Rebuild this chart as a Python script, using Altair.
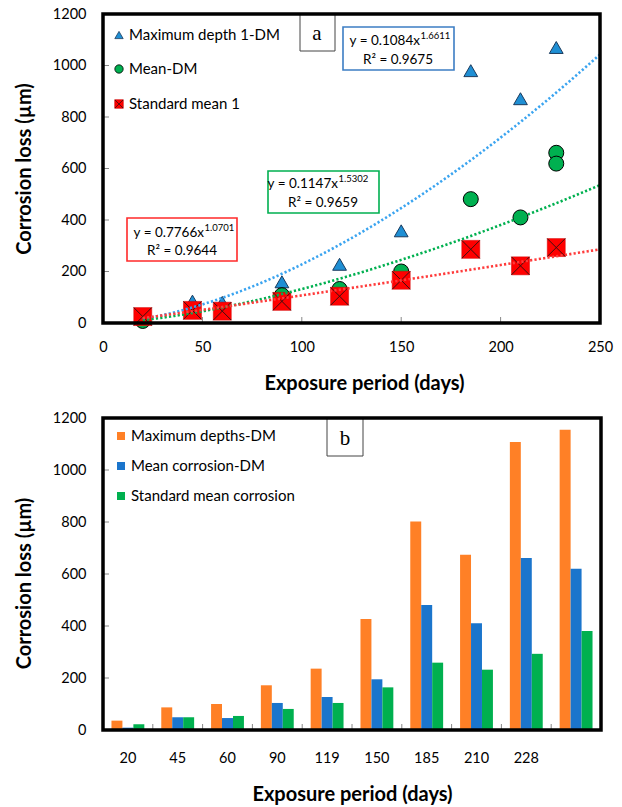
import altair as alt
import pandas as pd

# ---------------- chart (a) data ----------------
days_max = [20, 45, 60, 90, 119, 150, 185, 210, 228]
max_depth = [35, 85, 80, 160, 228, 358, 980, 871, 1070]
days_mean = [20, 45, 60, 90, 119, 150, 185, 210, 228, 228]
mean_dm = [8, 50, 48, 108, 132, 200, 481, 410, 661, 619]
days_std = [20, 45, 60, 90, 119, 150, 185, 210, 228]
std_mean = [25, 49, 46, 84, 104, 166, 286, 222, 293]

series_a = ["Maximum depth 1-DM", "Mean-DM", "Standard mean 1"]
fit_a = [0.1084, 0.1147, 0.7766]
fit_b = [1.6611, 1.5302, 1.0701]
fit_r2 = [0.9675, 0.9659, 0.9644]

# ---------------- chart (b) data ----------------
bar_days = ["20", "45", "60", "90", "119", "150", "185", "210", "228", ""]
bar_max = [36, 87, 100, 172, 236, 427, 802, 674, 1108, 1155]
bar_mean = [9, 49, 46, 104, 127, 195, 481, 411, 662, 620]
bar_std = [22, 49, 54, 81, 104, 164, 259, 232, 293, 381]
series_b = ["Maximum depths-DM", "Mean corrosion-DM", "Standard mean corrosion"]

# ---------------- styling ----------------
FONT = "Lato"
SERIF = "Liberation Serif"
W1, H1 = 497, 309
W2, H2 = 498, 312

C_TRI, C_TRI_EDGE = "#1F8FD4", "#1B3A5C"
C_CIR = "#00B050"
C_SQ = "#FF0000"
LINE_COLORS = ["#3AA4F0", "#00B050", "#FF3B3B"]
BOX_COLORS = ["#3C7DC4", "#00B050", "#FF2A2A"]
BAR_COLORS = ["#FF8026", "#1B75CC", "#00B04F"]
X_PATH = "M-1,-1L1,1M-1,1L1,-1"

# ================= chart (a) =================
xs = alt.Scale(domain=[0, 250], nice=False, zero=False)
ys = alt.Scale(domain=[0, 1200], nice=False)
x_a = alt.X("days:Q", scale=xs, title="Exposure period (days)",
            axis=alt.Axis(values=[0, 50, 100, 150, 200, 250], labelFlush=False, format="d",
                          labelPadding=17, titlePadding=20, titleX=261))
y_a = alt.Y("loss:Q", scale=ys, title="Corrosion loss (µm)",
            axis=alt.Axis(values=list(range(0, 1201, 200)), labelFlush=False, format="d",
                          labelPadding=17, titlePadding=18))

df_max = pd.DataFrame({"days": days_max, "loss": max_depth})
df_mean = pd.DataFrame({"days": days_mean, "loss": mean_dm})
df_std = pd.DataFrame({"days": days_std, "loss": std_mean})

tri = alt.Chart(df_max).mark_point(shape="triangle-up", size=190, filled=True, fill=C_TRI,
                                   stroke=C_TRI_EDGE, strokeWidth=1, opacity=1).encode(x=x_a, y=y_a)
cir = alt.Chart(df_mean).mark_point(shape="circle", size=225, filled=True, fill=C_CIR,
                                    stroke="black", strokeWidth=1, opacity=1).encode(x=x_a, y=y_a)
sq = alt.Chart(df_std).mark_point(shape="square", size=324, filled=True, fill=C_SQ,
                                  stroke="#D00000", strokeWidth=0.5, opacity=1).encode(x=x_a, y=y_a)
sqx = alt.Chart(df_std).mark_point(shape=X_PATH, size=324, filled=False, stroke="#3A1010",
                                   strokeWidth=1, opacity=1).encode(x=x_a, y=y_a)

fit_lines = []
for a, b, col in zip(fit_a, fit_b, LINE_COLORS):
    fit_lines.append(
        alt.Chart(alt.sequence(20, 250.5, 1, as_="days"))
        .transform_calculate(loss=f"{a} * pow(datum.days, {b})")
        .mark_line(color=col, strokeWidth=2.6, strokeDash=[2.2, 2.2])
        .encode(x=x_a, y=y_a)
    )

xt_a = alt.Chart(pd.DataFrame({"days": [50, 100, 150, 200]})).mark_rule(
    color="#888", strokeWidth=1).encode(x=x_a, y=alt.value(H1), y2=alt.value(H1 - 6))
yt_a = alt.Chart(pd.DataFrame({"loss": [200, 400, 600, 800, 1000]})).mark_rule(
    color="#888", strokeWidth=1).encode(y=y_a, x=alt.value(0), x2=alt.value(6))

# legend (a)
leg_rows = [21, 55, 90]
leg_a = []
shapes = [("triangle-up", C_TRI, C_TRI_EDGE), ("circle", C_CIR, "black"), ("square", C_SQ, "#D00000")]
for name, ry, (shp, fc, ec) in zip(series_a, leg_rows, shapes):
    d = pd.DataFrame({"name": [name]})
    leg_a.append(alt.Chart(d).mark_point(shape=shp, size=70, filled=True, fill=fc, stroke=ec,
                                         strokeWidth=0.8, opacity=1)
                 .encode(x=alt.value(16), y=alt.value(ry)))
    leg_a.append(alt.Chart(d).mark_text(align="left", baseline="middle", font=FONT, fontSize=15,
                                        color="black")
                 .encode(x=alt.value(26), y=alt.value(ry), text="name:N"))
leg_a.append(alt.Chart(pd.DataFrame({"name": [series_a[2]]})).mark_point(
    shape=X_PATH, size=70, filled=False, stroke="#3A1010", strokeWidth=0.8, opacity=1)
    .encode(x=alt.value(16), y=alt.value(leg_rows[2])))

# panel letter boxes
def letter_box(letter, x0, x1, y0, y1, tx, ty):
    d = pd.DataFrame({"t": [letter]})
    r = alt.Chart(d).mark_rect(fill="white", stroke="#444", strokeWidth=1).encode(
        x=alt.value(x0), x2=alt.value(x1), y=alt.value(y0), y2=alt.value(y1))
    t = alt.Chart(d).mark_text(font=SERIF, fontSize=21, color="black", baseline="middle",
                               align="center").encode(x=alt.value(tx), y=alt.value(ty), text="t:N")
    return [r, t]

# equation boxes: (x0, x1, y0, y1, split_x, line1_y, line2_cx, line2_y)
box_pos = [
    (240, 351, 13, 56, 317, 27, 295, 46),
    (165, 276, 157, 199, 235, 170, 220, 189),
    (24, 134, 204, 247, 101, 219, 79, 237),
]
eq_layers = []
for a, b, r2, col, p in zip(fit_a, fit_b, fit_r2, BOX_COLORS, box_pos):
    x0, x1, y0, y1, sx, l1y, l2x, l2y = p
    d = pd.DataFrame({"eq": [f"y = {a:.4f}x"], "ex": [f"{b:.4f}"], "r2": [f"R² = {r2:.4f}"]})
    eq_layers.append(alt.Chart(d).mark_rect(fill="white", stroke=col, strokeWidth=1.6).encode(
        x=alt.value(x0), x2=alt.value(x1), y=alt.value(y0), y2=alt.value(y1)))
    eq_layers.append(alt.Chart(d).mark_text(align="right", baseline="middle", font=FONT,
                                            fontSize=13.5, color="black")
                     .encode(x=alt.value(sx), y=alt.value(l1y), text="eq:N"))
    eq_layers.append(alt.Chart(d).mark_text(align="left", baseline="middle", font=FONT,
                                            fontSize=9.5, color="black")
                     .encode(x=alt.value(sx + 0.5), y=alt.value(l1y - 5), text="ex:N"))
    eq_layers.append(alt.Chart(d).mark_text(align="center", baseline="middle", font=FONT,
                                            fontSize=13.5, color="black")
                     .encode(x=alt.value(l2x), y=alt.value(l2y), text="r2:N"))

frame_a = alt.Chart(pd.DataFrame({"f": [0]})).mark_rect(
    fill="transparent", stroke="black", strokeWidth=3.5).encode(
    x=alt.value(0), x2=alt.value(W1), y=alt.value(0), y2=alt.value(H1))

top = alt.layer(
    xt_a, yt_a, tri, cir, sq, sqx, *fit_lines, *eq_layers,
    *letter_box("a", 197, 232, 0, 37, 214, 20), *leg_a, frame_a
).properties(width=W1, height=H1)

# ================= chart (b) =================
bars_df = pd.DataFrame({
    "day": bar_days * 3,
    "series": [s for s in series_b for _ in bar_days],
    "value": bar_max + bar_mean + bar_std,
})
xb_scale = alt.Scale(paddingInner=0.34, paddingOuter=0.17)
xb_axis = alt.Axis(labelAngle=0, labelPadding=21, titlePadding=20)
x_b = alt.X("day:N", sort=bar_days, scale=xb_scale, title="Exposure period (days)", axis=xb_axis)
y_b = alt.Y("value:Q", scale=alt.Scale(domain=[0, 1200], nice=False), title="Corrosion loss (µm)",
            axis=alt.Axis(values=list(range(0, 1201, 200)), labelFlush=False, format="d",
                          labelPadding=17, titlePadding=18, titleY=165))

bars = alt.Chart(bars_df).mark_bar().encode(
    x=x_b,
    xOffset=alt.XOffset("series:N", sort=series_b, scale=alt.Scale(paddingInner=0, paddingOuter=0)),
    y=y_b,
    color=alt.Color("series:N", sort=series_b,
                    scale=alt.Scale(domain=series_b, range=BAR_COLORS), legend=None),
)
step_b = W2 / (len(bar_days) - 0.34 + 2 * 0.17)
xt_b = alt.Chart(pd.DataFrame({"day": bar_days[1:]})).mark_rule(
    color="#888", strokeWidth=1, xOffset=-0.17 * step_b).encode(
    x=alt.X("day:N", sort=bar_days, scale=xb_scale, bandPosition=0,
            title="Exposure period (days)", axis=xb_axis),
    y=alt.value(H2), y2=alt.value(H2 - 6))
yt_b = alt.Chart(pd.DataFrame({"value": [200, 400, 600, 800, 1000]})).mark_rule(
    color="#888", strokeWidth=1).encode(y=y_b, x=alt.value(0), x2=alt.value(6))

leg_b = []
for name, ry, col in zip(series_b, [18, 48, 78], BAR_COLORS):
    d = pd.DataFrame({"name": [name]})
    leg_b.append(alt.Chart(d).mark_point(shape="square", size=64, filled=True, fill=col,
                                         strokeWidth=0, opacity=1)
                 .encode(x=alt.value(18), y=alt.value(ry)))
    leg_b.append(alt.Chart(d).mark_text(align="left", baseline="middle", font=FONT, fontSize=15,
                                        color="black")
                 .encode(x=alt.value(28), y=alt.value(ry), text="name:N"))

frame_b = alt.Chart(pd.DataFrame({"f": [0]})).mark_rect(
    fill="transparent", stroke="black", strokeWidth=3.5).encode(
    x=alt.value(0), x2=alt.value(W2), y=alt.value(0), y2=alt.value(H2))

bottom = alt.layer(
    bars, xt_b, yt_b, *leg_b, *letter_box("b", 224, 260, 0, 38, 242, 21), frame_b
).properties(width=W2, height=H2)

chart = alt.vconcat(top, bottom, spacing=16).properties(
    padding={"left": 14, "top": 6, "right": 5, "bottom": 5}, background="white"
).configure_view(strokeWidth=0).configure_axis(
    labelFont=FONT, titleFont=FONT, labelFontSize=14.5, titleFontSize=20,
    titleFontWeight="bold", labelColor="black", titleColor="black",
    grid=False, domain=False, ticks=False,
)

chart.save("out.html", embed_options={"renderer": "svg", "actions": False})
